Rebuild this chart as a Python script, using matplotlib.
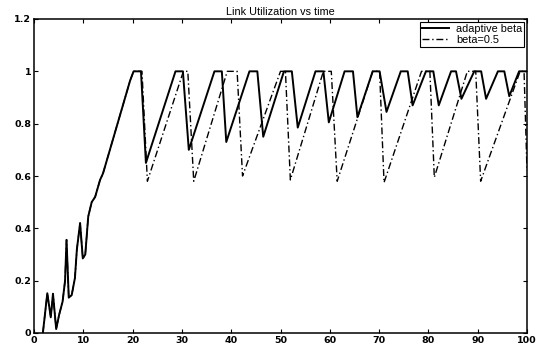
import matplotlib
matplotlib.use("Agg")
import matplotlib.pyplot as plt
import numpy as np

plt.rcParams['font.family'] = ['Liberation Sans', 'DejaVu Sans']

# Shared slow-start phase (both curves coincide)
start_t = [1.8, 2.7, 3.4, 3.85, 4.5, 5.1, 5.8, 6.3, 6.6, 7.05, 7.65, 8.3, 8.7,
           9.35, 9.9, 10.4, 11.0, 11.7, 12.4, 13.4, 14.0, 19.5, 20.2, 21.7]
start_u = [0.0, 0.152, 0.06, 0.15, 0.015, 0.07, 0.12, 0.2, 0.356, 0.135, 0.145,
           0.21, 0.32, 0.42, 0.285, 0.30, 0.445, 0.50, 0.52, 0.585, 0.61, 0.965, 1.0, 1.0]

# adaptive beta after slow start
adaptive_t = [22.7, 28.7, 30.2, 31.4, 36.6, 38.1, 39.0, 43.7, 45.3, 46.5, 50.7,
              52.3, 53.5, 57.1, 58.7, 59.8, 63.0, 64.7, 65.6, 68.7, 70.1, 71.5,
              74.4, 75.8, 76.8, 79.5, 81.0, 82.1, 84.6, 85.6, 86.7, 89.3, 90.7,
              91.7, 94.1, 95.4, 96.4, 98.4, 100.0]
adaptive_u = [0.65, 1.0, 1.0, 0.70, 1.0, 1.0, 0.73, 1.0, 1.0, 0.75, 1.0,
              1.0, 0.785, 1.0, 1.0, 0.805, 1.0, 1.0, 0.825, 1.0, 1.0, 0.845,
              1.0, 1.0, 0.87, 1.0, 1.0, 0.87, 1.0, 1.0, 0.895, 1.0, 1.0,
              0.895, 1.0, 1.0, 0.905, 1.0, 1.0]

# beta = 0.5 after slow start
fixed_t = [21.9, 23.0, 30.3, 31.2, 32.4, 39.2, 41.2, 42.3, 50.0, 51.0, 52.0,
           58.7, 60.3, 61.5, 68.7, 70.1, 71.0, 78.6, 80.3, 81.2, 87.9, 89.6,
           90.6, 98.6, 99.4, 100.0]
fixed_u = [1.0, 0.58, 1.0, 1.0, 0.58, 1.0, 1.0, 0.60, 1.0, 1.0, 0.585,
           1.0, 1.0, 0.58, 1.0, 1.0, 0.575, 1.0, 1.0, 0.595, 1.0, 1.0,
           0.58, 1.0, 1.0, 0.62]

x_ticks = [0, 10, 20, 30, 40, 50, 60, 70, 80, 90, 100]
y_ticks = [0, 0.2, 0.4, 0.6, 0.8, 1.0, 1.2]
y_labels = ['0', '0.2', '0.4', '0.6', '0.8', '1', '1.2']

fig = plt.figure(figsize=(5.44, 3.48), dpi=100)
ax = fig.add_axes([34/544, 1-333/348, (527-34)/544, (333-19)/348])

ax.plot(start_t + adaptive_t, start_u + adaptive_u, color='black', lw=1.4,
        label='adaptive beta')
ax.plot(start_t + fixed_t, start_u + fixed_u, color='black', lw=1.0,
        linestyle=(0, (5, 2, 1, 2)), label='beta=0.5')

ax.set_xlim(0, 100)
ax.set_ylim(0, 1.2)
ax.set_xticks(x_ticks)
ax.set_yticks(y_ticks)
ax.set_yticklabels(y_labels)
ax.tick_params(direction='in', top=True, right=True, length=3,
               pad=2, width=0.8)
for lab in ax.get_xticklabels() + ax.get_yticklabels():
    lab.set_fontfamily(['DejaVu Sans'])
    lab.set_fontweight('bold')
    lab.set_fontsize(6.8)
for s in ax.spines.values():
    s.set_linewidth(1.1)
ax.set_title('Link Utilization vs time', fontsize=7.8, pad=3)
leg = ax.legend(loc='upper right', fontsize=7.8, frameon=True, fancybox=False,
                edgecolor='black', framealpha=1, borderpad=0.2, labelspacing=0.1,
                handlelength=2.5, handletextpad=0.6, borderaxespad=0.25)
leg.get_frame().set_linewidth(0.8)

fig.savefig('out.png', dpi=100)
